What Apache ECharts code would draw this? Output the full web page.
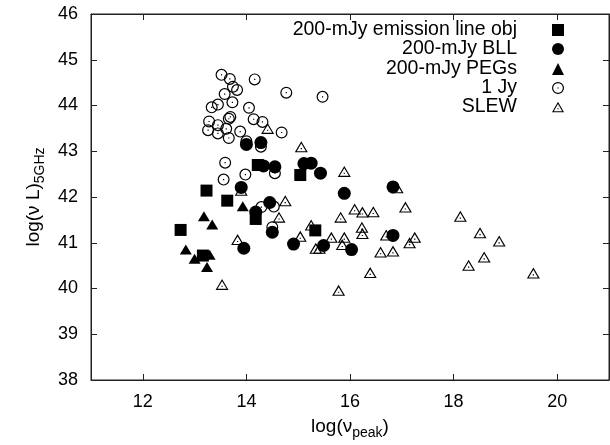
<!DOCTYPE html>
<html>
<head>
<meta charset="utf-8">
<script src="https://cdn.jsdelivr.net/npm/echarts@6/dist/echarts.min.js"></script>
<style>
  html, body { margin: 0; padding: 0; background: #fff; }
  #chart { width: 610px; height: 445px; }
</style>
</head>
<body>
<div id="chart"></div>
<script>
// ---- data ----
const seriesNames = ['200-mJy emission line obj', '200-mJy BLL', '200-mJy PEGs', '1 Jy', 'SLEW'];

const emlX = [12.73, 13.23, 13.63, 13.16, 14.18, 14.22, 15.04, 15.33];
const emlY = [41.28, 42.14, 41.92, 40.72, 41.52, 42.70, 42.48, 41.27];

const bllX = [14.00, 14.28, 14.33, 14.55, 15.11, 15.25, 15.43, 13.90, 14.45, 14.18, 14.50, 13.95, 14.91, 15.49, 16.03, 15.89, 16.83, 16.83];
const bllY = [43.15, 43.19, 42.68, 42.66, 42.73, 42.74, 42.52, 42.21, 41.88, 41.67, 41.23, 40.88, 40.97, 40.94, 40.85, 42.08, 42.22, 41.16];

const pegX = [13.18, 13.34, 13.93, 12.83, 13.00, 13.29, 13.24];
const pegY = [41.58, 41.40, 41.80, 40.85, 40.65, 40.74, 40.47];

const jyX = [13.52, 13.68, 14.16, 13.74, 13.82, 14.77, 13.58, 13.73, 13.45, 13.33, 14.05, 13.69, 13.66, 14.14, 14.31, 13.28, 13.45, 13.26, 13.61, 13.88, 14.68, 13.45, 13.66, 14.28, 14.00, 13.59, 13.98, 13.56, 14.55, 14.29, 14.53, 14.50, 15.47];
const jyY = [44.67, 44.58, 44.57, 44.41, 44.34, 44.28, 44.25, 44.07, 44.02, 43.96, 43.95, 43.75, 43.71, 43.70, 43.64, 43.65, 43.57, 43.46, 43.49, 43.43, 43.41, 43.39, 43.29, 43.10, 43.22, 42.75, 42.49, 42.38, 42.52, 41.78, 41.79, 41.34, 44.19];

const slewX = [14.41, 15.06, 13.90, 14.75, 14.63, 15.25, 15.04, 13.83, 15.34, 15.41, 13.53, 15.89, 16.91, 17.07, 16.09, 16.24, 16.45, 15.82, 16.23, 16.24, 15.64, 15.89, 15.85, 16.70, 17.25, 17.15, 16.59, 16.83, 16.39, 15.78, 18.13, 18.51, 18.88, 18.59, 18.29, 19.54];
const slewY = [43.50, 43.10, 42.15, 41.92, 41.56, 41.39, 41.14, 41.07, 40.88, 40.88, 40.09, 42.56, 42.20, 41.78, 41.74, 41.67, 41.68, 41.56, 41.34, 41.20, 41.12, 41.12, 40.96, 41.17, 41.12, 41.00, 40.80, 40.82, 40.35, 39.96, 41.58, 41.22, 41.04, 40.69, 40.51, 40.34];

const xTickValues = [12, 14, 16, 18, 20];
const yTickValues = [38, 39, 40, 41, 42, 43, 44, 45, 46];

// ---- helpers ----
function zip(xs, ys) { return xs.map((x, i) => [x, ys[i]]); }

// open circle with centre dot, open triangle with centre dot (ring paths)
const openCircle = 'path://M50,0 A50,50 0 1,1 50,100 A50,50 0 1,1 50,0 Z M50,10 A40,40 0 1,0 50,90 A40,40 0 1,0 50,10 Z M45,45 L55,45 L55,55 L45,55 Z';
const openTriangle = 'path://M50,0 L100,87 L0,87 Z M50,19 L15,79 L85,79 Z M45,54 L55,54 L55,63 L45,63 Z';

const FONT = '"Liberation Sans", Arial, Helvetica, sans-serif';
const INK = '#000';

const symbols = {
  '200-mJy emission line obj': { symbol: 'rect', size: 12 },
  '200-mJy BLL': { symbol: 'circle', size: 13 },
  '200-mJy PEGs': { symbol: 'triangle', size: [12, 10] },
  '1 Jy': { symbol: openCircle, size: 12 },
  'SLEW': { symbol: openTriangle, size: [13, 11] }
};
const dataSets = {
  '200-mJy emission line obj': zip(emlX, emlY),
  '200-mJy BLL': zip(bllX, bllY),
  '200-mJy PEGs': zip(pegX, pegY),
  '1 Jy': zip(jyX, jyY),
  'SLEW': zip(slewX, slewY)
};

const series = seriesNames.map(n => ({
  name: n,
  type: 'scatter',
  xAxisIndex: 0,
  yAxisIndex: 0,
  symbol: symbols[n].symbol,
  symbolSize: symbols[n].size,
  symbolKeepAspect: false,
  itemStyle: { color: INK, opacity: 1 },
  emphasis: { disabled: true },
  data: dataSets[n]
}));

const legendRowsY = [31, 50, 70, 89, 108];
const legends = seriesNames.map((n, i) => ({
  data: [{ name: n, icon: symbols[n].symbol }],
  orient: 'vertical',
  align: 'right',
  right: 46,
  top: legendRowsY[i] - 11,
  padding: 0,
  itemWidth: 12,
  itemHeight: 12,
  selectedMode: false,
  textStyle: { fontFamily: FONT, fontSize: 19.5, color: INK, padding: [0, 30, 0, 0] }
}));

const axisLineStyle = { color: '#222', width: 1 };

const option = {
  animation: false,
  backgroundColor: '#fff',
  textStyle: { fontFamily: FONT },
  grid: {
    left: 91, right: 1, top: 14, bottom: 63,
    show: true, borderColor: '#222', borderWidth: 1, backgroundColor: 'transparent'
  },
  legend: legends,
  xAxis: [
    {
      type: 'value', min: 11, max: 21, position: 'bottom',
      name: 'log(ν{sub|peak})', nameLocation: 'middle', nameGap: 34,
      nameTextStyle: {
        fontFamily: FONT, fontSize: 19, color: INK,
        rich: { sub: { fontFamily: FONT, fontSize: 14, color: INK, padding: [12, 0, 0, 0] } }
      },
      splitLine: { show: false },
      axisLine: { show: true, lineStyle: axisLineStyle },
      axisTick: { show: true, inside: true, length: 6, lineStyle: axisLineStyle, customValues: xTickValues },
      axisLabel: { show: true, fontFamily: FONT, fontSize: 18, color: INK, margin: 13, customValues: xTickValues }
    },
    {
      type: 'value', min: 11, max: 21, position: 'top',
      splitLine: { show: false },
      axisLine: { show: true, lineStyle: axisLineStyle },
      axisTick: { show: true, inside: true, length: 6, lineStyle: axisLineStyle, customValues: xTickValues },
      axisLabel: { show: false }
    }
  ],
  yAxis: [
    {
      type: 'value', min: 38, max: 46, position: 'left',
      name: 'log(ν L){sub|5GHz}', nameLocation: 'middle', nameGap: 40, nameRotate: 90,
      nameTextStyle: {
        fontFamily: FONT, fontSize: 19, color: INK,
        rich: { sub: { fontFamily: FONT, fontSize: 14, color: INK, padding: [12, 0, 0, 0] } }
      },
      splitLine: { show: false },
      axisLine: { show: true, lineStyle: axisLineStyle },
      axisTick: { show: true, inside: true, length: 6, lineStyle: axisLineStyle, customValues: yTickValues },
      axisLabel: { show: true, fontFamily: FONT, fontSize: 18, color: INK, margin: 13, customValues: yTickValues }
    },
    {
      type: 'value', min: 38, max: 46, position: 'right',
      splitLine: { show: false },
      axisLine: { show: true, lineStyle: axisLineStyle },
      axisTick: { show: true, inside: true, length: 6, lineStyle: axisLineStyle, customValues: yTickValues },
      axisLabel: { show: false }
    }
  ],
  series: series
};

const chart = echarts.init(document.getElementById('chart'), null, { renderer: 'canvas' });
chart.setOption(option);
</script>
</body>
</html>
